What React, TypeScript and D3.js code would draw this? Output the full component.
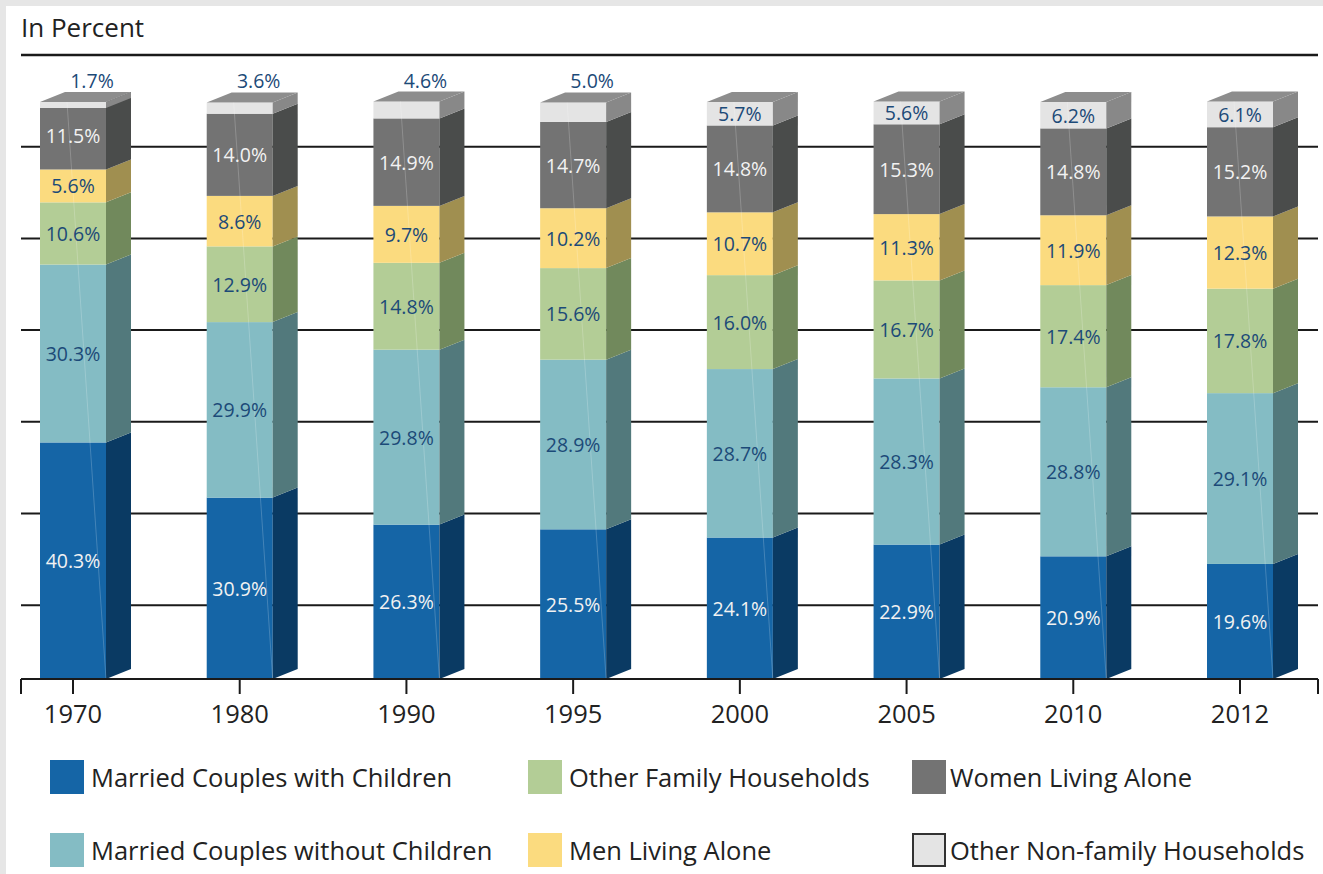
import React from "react";
import * as d3 from "d3";

const years = ["1970", "1980", "1990", "1995", "2000", "2005", "2010", "2012"];

const seriesNames = [
  "Married Couples with Children",
  "Married Couples without Children",
  "Other Family Households",
  "Men Living Alone",
  "Women Living Alone",
  "Other Non-family Households",
];

const marriedWithChildren = [40.3, 30.9, 26.3, 25.5, 24.1, 22.9, 20.9, 19.6];
const marriedWithoutChildren = [30.3, 29.9, 29.8, 28.9, 28.7, 28.3, 28.8, 29.1];
const otherFamily = [10.6, 12.9, 14.8, 15.6, 16.0, 16.7, 17.4, 17.8];
const menAlone = [5.6, 8.6, 9.7, 10.2, 10.7, 11.3, 11.9, 12.3];
const womenAlone = [11.5, 14.0, 14.9, 14.7, 14.8, 15.3, 14.8, 15.2];
const otherNonFamily = [1.7, 3.6, 4.6, 5.0, 5.7, 5.6, 6.2, 6.1];

const seriesValues = [
  marriedWithChildren,
  marriedWithoutChildren,
  otherFamily,
  menAlone,
  womenAlone,
  otherNonFamily,
];

const frontColors = ["#1565a6", "#84bcc4", "#b3cd96", "#fbdb7f", "#737373", "#e4e4e4"];
const sideColors = ["#0a3a63", "#52797c", "#71895c", "#a08f50", "#4a4c4b", "#888888"];
const labelColors = ["#f2f2f2", "#1c4a78", "#1c4a78", "#1c4a78", "#f2f2f2", "#1c4a78"];

const font = "'Open Sans', 'Noto Sans', sans-serif";

export default function App() {
  const W = 1323, H = 874;
  const left = 21, right = 1318, top = 55, base = 679;
  const barW = 66, dx = 25, dy = 10;

  const rows = years.map((yr, i) => {
    const r: any = { year: yr };
    seriesNames.forEach((k, j) => (r[k] = seriesValues[j][i]));
    return r;
  });
  const stacked = d3.stack().keys(seriesNames)(rows);

  const x = d3.scalePoint<string>().domain(years).range([73, 1240]);
  const y = d3.scaleLinear().domain([0, 100]).range([base, 92]);

  const gridStep = 91.7;
  const grid = d3.range(1, 7).map((i) => top + i * gridStep);

  const legendCols = [50, 528, 912];
  const legendRows = [760, 833];

  return (
    <div style={{ position: "absolute", left: 0, top: 0 }}>
      <svg width={W} height={H} style={{ display: "block" }} fontFamily={font}>
        <rect x={0} y={0} width={W} height={H} fill="#e6e6e6" />
        <rect x={6} y={6} width={W - 6} height={H - 6} fill="#ffffff" />
        <text x={left} y={37} fontSize={26} fill="#222">In Percent</text>
        <line x1={left} x2={right} y1={top} y2={top} stroke="#1a1a1a" strokeWidth={2.5} />
        {grid.map((g, i) => (
          <line key={i} x1={left} x2={right} y1={g} y2={g} stroke="#1a1a1a" strokeWidth={2} />
        ))}

        {years.map((yr, i) => {
          const x0 = (x(yr) as number) - barW / 2;
          const x1 = x0 + barW;
          const total = stacked[stacked.length - 1][i][1];
          const frontTop = y(total) + dy;
          const segs = stacked.map((s, j) => {
            let yt = Math.max(y(s[i][1]), frontTop);
            let yb = y(s[i][0]);
            if (j === stacked.length - 1) {
              yt = frontTop;
              yb = Math.max(yb, frontTop + 6);
            }
            return { j, yt, yb, v: seriesValues[j][i] };
          });
          return (
            <g key={yr}>
              {segs.map((s) => (
                <g key={s.j}>
                  <rect x={x0} y={s.yt} width={barW} height={Math.max(0, s.yb - s.yt)} fill={frontColors[s.j]} />
                  <polygon
                    points={`${x1},${s.yt} ${x1},${s.yb} ${x1 + dx},${s.yb - dy} ${x1 + dx},${s.yt - dy}`}
                    fill={sideColors[s.j]}
                  />
                </g>
              ))}
              <polygon
                points={`${x0},${frontTop} ${x1},${frontTop} ${x1 + dx},${frontTop - dy} ${x0 + dx},${frontTop - dy}`}
                fill="#8d8d8d"
              />
              <line x1={x0 + 27} y1={frontTop} x2={x1} y2={base} stroke="#ffffff" strokeOpacity={0.2} strokeWidth={1} />
              {segs.map((s) => {
                const h = s.yb - s.yt;
                const above = h < 21;
                return (
                  <text
                    key={"l" + s.j}
                    x={above ? (x(yr) as number) + 19 : (x(yr) as number)}
                    y={above ? 80 : (s.yt + s.yb) / 2}
                    textAnchor="middle"
                    dominantBaseline="central"
                    fontSize={19.5}
                    fill={above ? "#1c4a78" : labelColors[s.j]}
                  >
                    {s.v.toFixed(1)}%
                  </text>
                );
              })}
            </g>
          );
        })}

        <line x1={left} x2={right} y1={base} y2={base} stroke="#1a1a1a" strokeWidth={2} />
        {[left, right].map((t) => (
          <line key={t} x1={t} x2={t} y1={base} y2={base + 15} stroke="#1a1a1a" strokeWidth={2} />
        ))}
        {years.map((yr) => (
          <g key={"t" + yr}>
            <line x1={x(yr)} x2={x(yr)} y1={base} y2={base + 15} stroke="#1a1a1a" strokeWidth={2} />
            <text x={x(yr)} y={713} textAnchor="middle" dominantBaseline="central" fontSize={25.5} fill="#222">
              {yr}
            </text>
          </g>
        ))}

        {seriesNames.map((name, j) => {
          const lx = legendCols[Math.floor(j / 2)];
          const ly = legendRows[j % 2];
          const last = j === seriesNames.length - 1;
          return (
            <g key={name}>
              <rect
                x={last ? lx + 1 : lx}
                y={last ? ly + 1 : ly}
                width={last ? 32 : 34}
                height={last ? 32 : 34}
                fill={frontColors[j]}
                stroke={last ? "#333" : "none"}
                strokeWidth={2}
              />
              <text x={lx + (j >= 4 ? 38 : 41)} y={ly + 17} dominantBaseline="central" fontSize={25.5} fill="#222">
                {name}
              </text>
            </g>
          );
        })}
      </svg>
    </div>
  );
}
